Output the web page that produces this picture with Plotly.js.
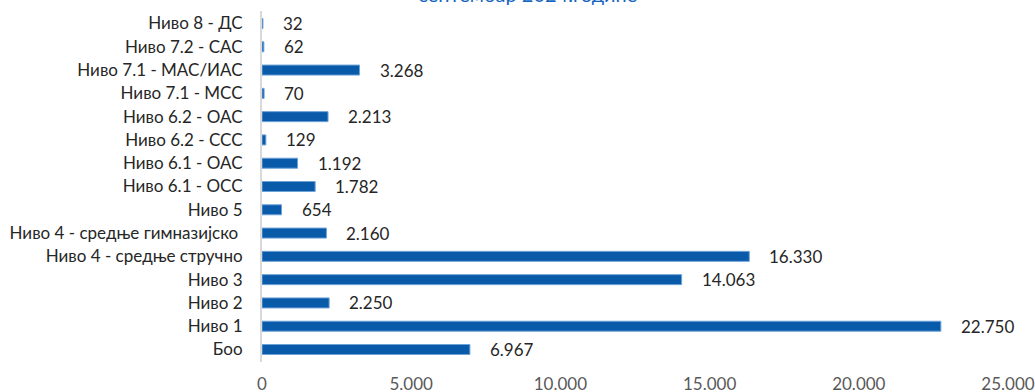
<!DOCTYPE html>
<html>
<head>
<meta charset="utf-8">
<script src="https://cdn.plot.ly/plotly-3.0.1.min.js"></script>
<style>html,body{margin:0;padding:0;background:#fff;}#chart{width:1035px;height:392px;}</style>
</head>
<body>
<div id="chart"></div>
<script>
const categories = [
  "Ниво 8 - ДС",
  "Ниво 7.2 - САС",
  "Ниво 7.1 - МАС/ИАС",
  "Ниво 7.1 - МСС",
  "Ниво 6.2 - ОАС",
  "Ниво 6.2 - ССС",
  "Ниво 6.1 - ОАС",
  "Ниво 6.1 - ОСС",
  "Ниво 5",
  "Ниво 4 - средње гимназијско ",
  "Ниво 4 - средње стручно",
  "Ниво 3",
  "Ниво 2",
  "Ниво 1",
  "Боо"
];
const values = [32, 62, 3268, 70, 2213, 129, 1192, 1782, 654, 2160, 16330, 14063, 2250, 22750, 6967];
const tickValues = [0, 5000, 10000, 15000, 20000, 25000];
const tickLabels = ["0", "5.000", "10.000", "15.000", "20.000", "25.000"];
const titleText = "септембар 2024.године";

function fmt(v) {
  return String(v).replace(/\B(?=(\d{3})+(?!\d))/g, ".");
}

const trace = {
  type: "bar",
  orientation: "h",
  x: values,
  y: categories,
  marker: { color: "#0A5AAA", line: { color: "#6FA3D8", width: 1 } },
  hoverinfo: "none"
};

const annotations = values.map((v, i) => ({
  x: v, y: categories[i], xref: "x", yref: "y",
  text: fmt(v), showarrow: false, xanchor: "left", yanchor: "middle",
  xshift: 18, font: { family: "Lato, sans-serif", size: 17, color: "#262626" }
}));

const layout = {
  width: 1035, height: 392,
  margin: { l: 262, r: 27, t: 11, b: 30, pad: 0 },
  paper_bgcolor: "#fff", plot_bgcolor: "#fff",
  showlegend: false,
  bargap: 0.57,
  title: {
    text: titleText,
    font: { family: "Lato, sans-serif", size: 20, color: "#1565C0" },
    x: 0.51, xanchor: "center", xref: "container",
    y: 0.996, yanchor: "bottom", yref: "container"
  },
  xaxis: {
    range: [0, 25000], tickvals: tickValues, ticktext: tickLabels,
    showgrid: false, zeroline: false, showline: false, ticks: "",
    tickfont: { family: "Lato, sans-serif", size: 17, color: "#595959" },
    ticklabelstandoff: 10, fixedrange: true
  },
  yaxis: {
    type: "category", autorange: "reversed",
    showgrid: false, zeroline: false, showline: true, linecolor: "#D9D9D9", linewidth: 2,
    ticks: "", ticklabelstandoff: 14,
    tickfont: { family: "Lato, sans-serif", size: 17, color: "#262626" }, fixedrange: true
  },
  annotations: annotations
};

Plotly.newPlot("chart", [trace], layout, { displayModeBar: false, staticPlot: true });
</script>
</body>
</html>
